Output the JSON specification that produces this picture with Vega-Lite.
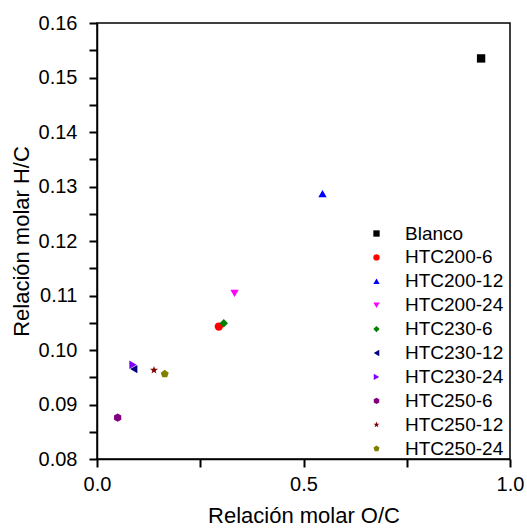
{
  "$schema": "https://vega.github.io/schema/vega-lite/v6.json",
  "width": 413,
  "height": 436,
  "autosize": {"type": "none"},
  "padding": {"left": 97, "top": 23, "right": 17, "bottom": 70},
  "background": "white",
  "config": {
    "font": "Liberation Sans",
    "view": {"stroke": "black", "strokeWidth": 1.5},
    "axis": {"grid": false, "labelFlush": false, "labelOverlap": false, "domainColor": "black", "domainWidth": 1.5, "tickColor": "black", "tickWidth": 2, "labelColor": "black", "titleColor": "black", "labelFontSize": 20, "titleFontSize": 22, "titleFontWeight": "normal", "labelFont": "Liberation Sans", "titleFont": "Liberation Sans"}
  },
  "data": {"values": [
    {"muestra": "Blanco", "oc": 0.930, "hc": 0.1535},
    {"muestra": "HTC200-6", "oc": 0.295, "hc": 0.1043},
    {"muestra": "HTC200-12", "oc": 0.546, "hc": 0.1287},
    {"muestra": "HTC200-24", "oc": 0.333, "hc": 0.1104},
    {"muestra": "HTC230-6", "oc": 0.307, "hc": 0.1049},
    {"muestra": "HTC230-12", "oc": 0.089, "hc": 0.0965},
    {"muestra": "HTC230-24", "oc": 0.087, "hc": 0.0973},
    {"muestra": "HTC250-6", "oc": 0.050, "hc": 0.0876},
    {"muestra": "HTC250-12", "oc": 0.138, "hc": 0.0963},
    {"muestra": "HTC250-24", "oc": 0.164, "hc": 0.0956}
  ]},
  "mark": {"type": "point", "filled": true, "opacity": 1, "size": 70},
  "encoding": {
    "x": {"field": "oc", "type": "quantitative", "scale": {"domain": [0, 1], "nice": false, "zero": false},
          "axis": {"values": [0, 0.25, 0.5, 0.75, 1],
                   "labelExpr": "abs(datum.value*2 - round(datum.value*2)) < 0.01 ? format(datum.value, '.1f') : ''",
                   "tickSize": 8, "labelPadding": 7, "title": "Relación molar O/C", "titlePadding": 11}},
    "y": {"field": "hc", "type": "quantitative", "scale": {"domain": [0.08, 0.16], "nice": false, "zero": false},
          "axis": {"values": [0.08, 0.085, 0.09, 0.095, 0.10, 0.105, 0.11, 0.115, 0.12, 0.125, 0.13, 0.135, 0.14, 0.145, 0.15, 0.155, 0.16],
                   "labelExpr": "abs(datum.value*100 - round(datum.value*100)) < 0.01 ? format(datum.value, '.2f') : ''",
                   "tickSize": 8, "labelPadding": 12, "title": "Relación molar H/C", "titlePadding": 5}},
    "color": {"field": "muestra", "type": "nominal",
      "scale": {"domain": ["Blanco", "HTC200-6", "HTC200-12", "HTC200-24", "HTC230-6", "HTC230-12", "HTC230-24", "HTC250-6", "HTC250-12", "HTC250-24"],
                "range": ["#000000", "#ff0000", "#0000ff", "#ff00ff", "#008000", "#000080", "#8000ff", "#800080", "#800000", "#808000"]},
      "legend": {"title": null, "orient": "none", "legendX": 270, "legendY": 201, "labelFontSize": 19, "labelColor": "black", "rowPadding": 3.9, "symbolSize": 40, "labelOffset": 19, "symbolStrokeWidth": 0}},
    "shape": {"field": "muestra", "type": "nominal",
      "scale": {"domain": ["Blanco", "HTC200-6", "HTC200-12", "HTC200-24", "HTC230-6", "HTC230-12", "HTC230-24", "HTC250-6", "HTC250-12", "HTC250-24"],
                "range": ["square", "circle", "triangle-up", "triangle-down", "diamond", "triangle-left", "triangle-right",
                          "M0,-1L0.866,-0.5L0.866,0.5L0,1L-0.866,0.5L-0.866,-0.5Z",
                          "M0,-1L0.235,-0.324L0.951,-0.309L0.38,0.124L0.588,0.809L0,0.4L-0.588,0.809L-0.38,0.124L-0.951,-0.309L-0.235,-0.324Z",
                          "M0,-1L0.951,-0.309L0.588,0.809L-0.588,0.809L-0.951,-0.309Z"]}}
  }
}
